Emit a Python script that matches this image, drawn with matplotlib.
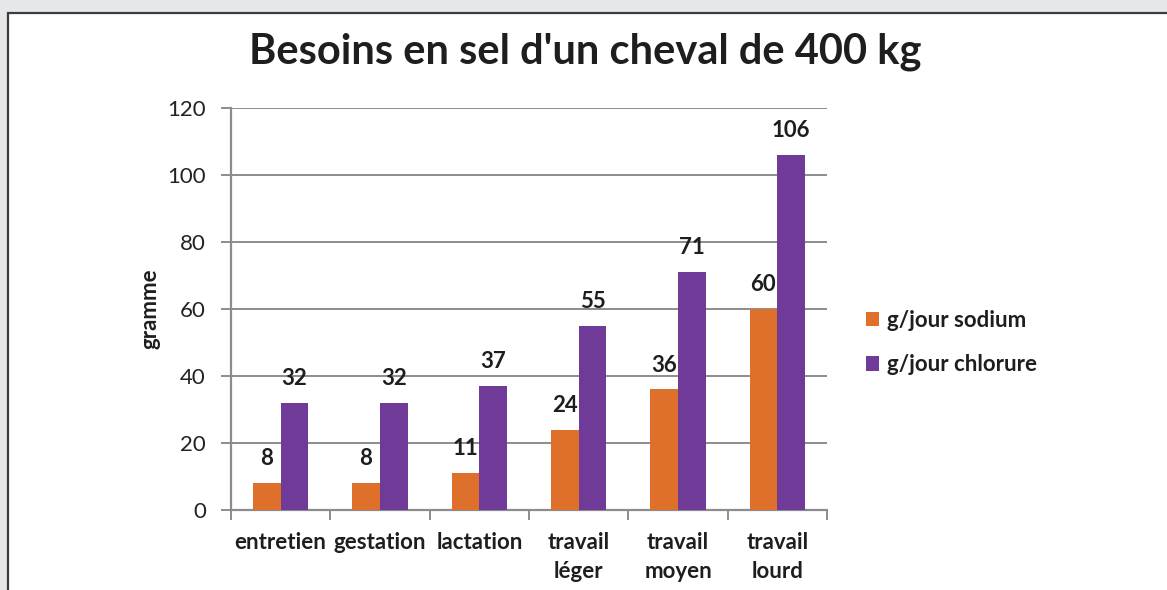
import matplotlib
matplotlib.use("Agg")
import matplotlib.pyplot as plt
from matplotlib.patches import Rectangle
import numpy as np

categories = ["entretien", "gestation", "lactation", "travail\nléger", "travail\nmoyen", "travail\nlourd"]
sodium = [8, 8, 11, 24, 36, 60]
chlorure = [32, 32, 37, 55, 71, 106]
series_names = ["g/jour sodium", "g/jour chlorure"]
yticks = [0, 20, 40, 60, 80, 100, 120]

plt.rcParams['font.family'] = ['Lato', 'DejaVu Sans']

W, H = 1167, 590
fig = plt.figure(figsize=(W / 100, H / 100), dpi=100)
fig.patch.set_facecolor('#E6E7E8')
# white chart area with border
fig.patches.append(Rectangle((8 / W, -0.1), 1.2, (H - 13) / H + 0.1, transform=fig.transFigure,
                             facecolor='white', edgecolor='#3C3C3C', linewidth=1.6, zorder=-5))

ax = fig.add_axes([231 / W, 1 - 510 / H, (827 - 231) / W, (510 - 108) / H])
ax.set_facecolor('white')
x = np.arange(len(categories))
bw = 0.28
c1, c2 = '#DF702C', '#703A99'
b1 = ax.bar(x - bw / 2, sodium, bw, color=c1, label=series_names[0], zorder=3)
b2 = ax.bar(x + bw / 2, chlorure, bw, color=c2, label=series_names[1], zorder=3)

for bars, vals in ((b1, sodium), (b2, chlorure)):
    for r, v in zip(bars, vals):
        ax.annotate(str(v), (r.get_x() + r.get_width() / 2, v), xytext=(0, 10),
                    textcoords='offset points', ha='center', va='bottom',
                    fontsize=16, fontweight='bold', color='#1E1E1E')

ax.set_xlim(-0.5, len(categories) - 0.5)
ax.set_ylim(0, 120)
ax.set_yticks(yticks)
ax.set_yticklabels([str(t) for t in yticks], fontsize=16, color='#222222')
ax.yaxis.grid(True, color='#8C8C8C', linewidth=1.4, zorder=0)
ax.set_axisbelow(True)
ax.set_xticks(np.arange(len(categories) + 1) - 0.5, minor=False)
ax.set_xticklabels([])
ax.set_xticks(x, minor=True)
ax.set_xticklabels(categories, minor=True, fontsize=16, fontweight='bold', color='#1E1E1E',
                   linespacing=1.45, va='top')
ax.tick_params(axis='x', which='minor', length=0, pad=16)
ax.tick_params(axis='x', which='major', length=7, width=1.4, color='#8C8C8C', direction='out')
ax.tick_params(axis='y', length=7, width=1.4, color='#8C8C8C', pad=11)
for s in ('top', 'right'):
    ax.spines[s].set_visible(False)
for s in ('left', 'bottom'):
    ax.spines[s].set_color('#8C8C8C')
    ax.spines[s].set_linewidth(1.6)

ax.set_ylabel('gramme', fontsize=16, fontweight='bold', color='#1E1E1E', labelpad=5)

fig.text(585 / W, 1 - 52 / H, "Besoins en sel d'un cheval de 400 kg", ha='center', va='center',
         fontsize=30, fontweight='bold', color='#1E1E1E')

leg = fig.legend(handles=[b1, b2], labels=series_names, loc='upper left',
                 bbox_to_anchor=(866 / W, 1 - 310 / H), frameon=False,
                 prop={'size': 16, 'weight': 'bold'}, handlelength=0.6, handleheight=0.6,
                 handletextpad=0.35, labelspacing=1.05, borderaxespad=0, borderpad=0)
for t in leg.get_texts():
    t.set_color('#1E1E1E')

fig.savefig('out.png', dpi=100, facecolor=fig.get_facecolor())
